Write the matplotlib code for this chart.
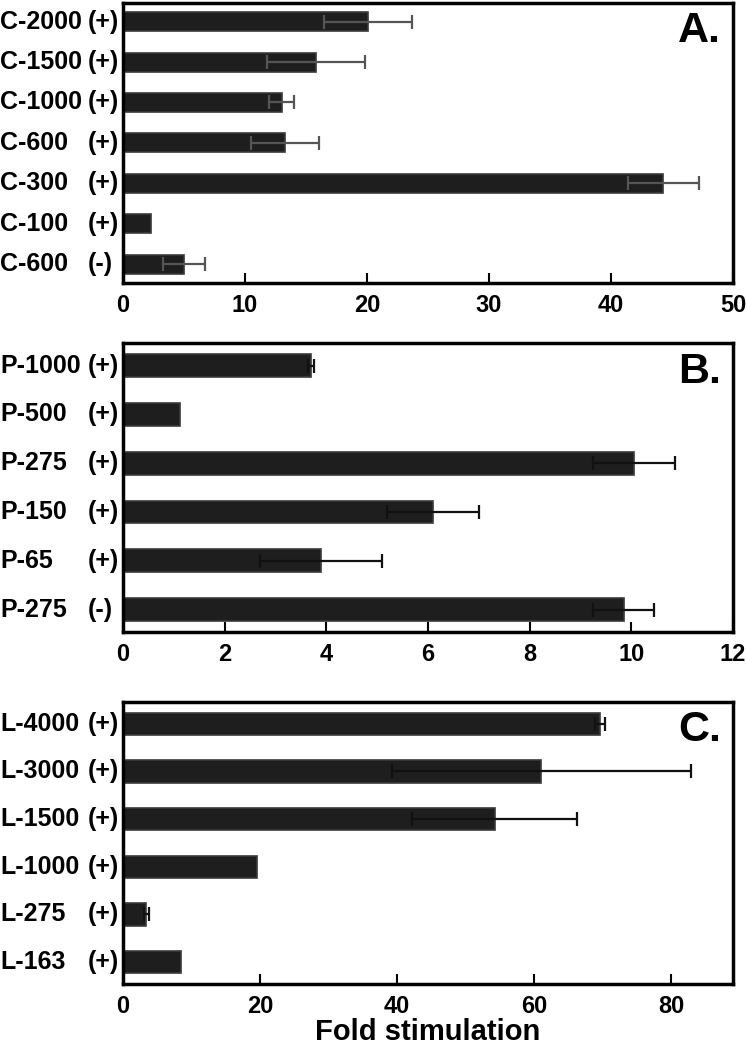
import matplotlib
matplotlib.use('Agg')
import matplotlib.pyplot as plt
import matplotlib.transforms as mtransforms

plt.rcParams['font.family'] = ['Liberation Sans', 'DejaVu Sans']
plt.rcParams['font.weight'] = 'bold'

# panel A
names_a = ['C-2000', 'C-1500', 'C-1000', 'C-600', 'C-300', 'C-100', 'C-600']
signs_a = ['(+)', '(+)', '(+)', '(+)', '(+)', '(+)', '(-)']
vals_a = [20.1, 15.8, 13.0, 13.3, 44.3, 2.3, 5.0]
errs_a = [3.6, 4.0, 1.0, 2.8, 2.9, 0.0, 1.7]

# panel B
names_b = ['P-1000', 'P-500', 'P-275', 'P-150', 'P-65', 'P-275']
signs_b = ['(+)', '(+)', '(+)', '(+)', '(+)', '(-)']
vals_b = [3.7, 1.13, 10.05, 6.1, 3.9, 9.85]
errs_b = [0.06, 0.0, 0.8, 0.9, 1.2, 0.6]

# panel C
names_c = ['L-4000', 'L-3000', 'L-1500', 'L-1000', 'L-275', 'L-163']
signs_c = ['(+)', '(+)', '(+)', '(+)', '(+)', '(+)']
vals_c = [69.6, 61.0, 54.2, 19.5, 3.4, 8.4]
errs_c = [0.7, 21.8, 12.0, 0.0, 0.4, 0.0]

panels = [
    (names_a, signs_a, vals_a, errs_a, 'A.', 50, [0, 10, 20, 30, 40, 50], '#555555',
     [0.1647, 0.7305, 0.8166, 0.2667]),
    (names_b, signs_b, vals_b, errs_b, 'B.', 12, [0, 2, 4, 6, 8, 10, 12], '#111111',
     [0.1647, 0.398, 0.8166, 0.2752]),
    (names_c, signs_c, vals_c, errs_c, 'C.', 89, [0, 20, 40, 60, 80], '#111111',
     [0.1647, 0.0629, 0.8166, 0.2686]),
]

fig = plt.figure(figsize=(7.47, 10.5), dpi=100)

for names, signs, vals, errs, tag, xmax, ticks, ecol, rect in panels:
    ax = fig.add_axes(rect)
    y = list(range(len(vals)))
    ax.barh(y, vals, height=0.47, color='#1e1e1e', edgecolor='#3a3a3a', linewidth=1.2, zorder=2)
    for yi, v, e in zip(y, vals, errs):
        if e > 0:
            ax.errorbar(v, yi, xerr=e, fmt='none', ecolor=ecol, elinewidth=1.6,
                        capsize=5, capthick=1.6, zorder=3)
    ax.set_ylim(len(vals) - 0.54, -0.46)
    ax.set_xlim(0, xmax)
    ax.set_xticks(ticks)
    ax.set_xticklabels([str(t) for t in ticks], fontsize=17, fontweight='bold')
    ax.tick_params(axis='x', direction='in', length=7, width=1.5, pad=8)
    ax.set_yticks([])
    for sp in ax.spines.values():
        sp.set_linewidth(2.5)
    trans = mtransforms.blended_transform_factory(fig.transFigure, ax.transData)
    for yi, n, s in zip(y, names, signs):
        ax.text(0.0, yi, n, transform=trans, ha='left', va='center',
                fontsize=18, fontweight='bold', clip_on=False)
        ax.text(0.117, yi, s, transform=trans, ha='left', va='center',
                fontsize=18, fontweight='bold', clip_on=False)
    ax.text(0.945, 0.9, tag, transform=ax.transAxes, ha='center', va='center',
            fontsize=31, fontweight='bold')
    if tag == 'C.':
        ax.set_xlabel('Fold stimulation', fontsize=21, fontweight='bold', labelpad=0)

fig.savefig('out.png', dpi=100)
